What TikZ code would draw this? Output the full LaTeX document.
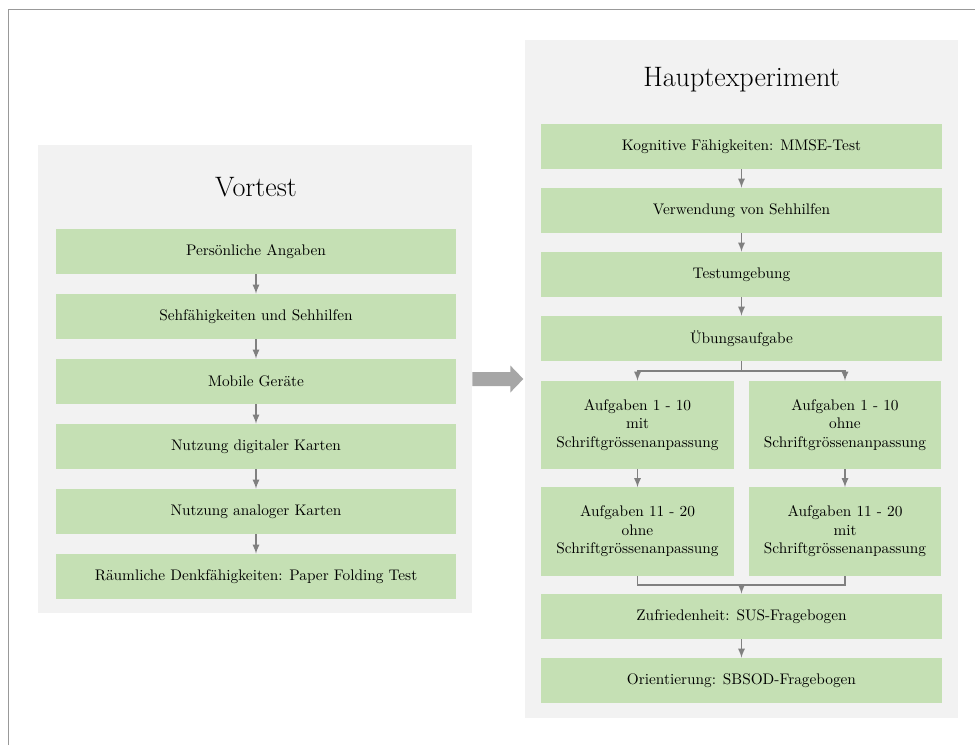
\documentclass[tikz,border=0pt]{standalone}
\usetikzlibrary{arrows}
\usetikzlibrary{positioning}
\usetikzlibrary{calc}
\definecolor{boxgreen}{HTML}{C5E0B4}
\definecolor{panelgray}{HTML}{F2F2F2}
\definecolor{linegray}{HTML}{808080}
\definecolor{arrowgray}{HTML}{A6A6A6}
\tikzset{
  panel/.style={fill=panelgray, inner sep=0pt},
  stepbox/.style={fill=boxgreen, minimum width=10cm, minimum height=1.125cm, inner sep=0pt, align=center, font=\fontsize{10.9}{13.1}\selectfont},
  halfbox/.style={stepbox, minimum width=4.8cm, minimum height=2.2cm},
  title/.style={font=\fontsize{20}{24}\selectfont},
  flow/.style={linegray, line width=1.2pt, -latex},
  plainflow/.style={linegray, line width=1.2pt},
}
\begin{document}
\begin{tikzpicture}[x=0.025cm,y=-0.025cm]
  \useasboundingbox (0,0) rectangle (975,745);
  \draw[black!40, line width=0.6pt] (8,745) -- (8,9) -- (975,9);
  %% panels
  \node[panel, minimum width=10.85cm, minimum height=11.7cm] (vor) at (255,379) {};
  \node[panel, minimum width=10.825cm, minimum height=16.95cm] (haupt) at (741.5,379) {};
  \node[title] (vortitle) at (256,187) {Vortest};
  \node[title] (haupttitle) at (741.5,80) {Hauptexperiment};
  %% Vortest
  \foreach \name/\txt [count=\i from 0] in {pers/Persönliche Angaben, sehf/Sehfähigkeiten und Sehhilfen, mob/Mobile Geräte, digi/Nutzung digitaler Karten, anal/Nutzung analoger Karten, raum/Räumliche Denkfähigkeiten: Paper Folding Test}
    \node[stepbox] (\name) at (256,{251.5+65*\i}) {\txt};
  \foreach \a/\b in {pers/sehf, sehf/mob, mob/digi, digi/anal, anal/raum}
    \draw[flow] (\a) -- (\b);
  %% big arrow
  \fill[arrowgray] ($(vor.east)+(0,-7)$) -- ++(38,0) -- ++(0,-6.5) -- ($(vor.east)+(51,0)$)
    -- ($(vor.east)+(38,13.5)$) -- ++(0,-6.5) -- ($(vor.east)+(0,7)$) -- cycle;
  %% Hauptexperiment
  \foreach \name/\txt [count=\i from 0] in {kog/Kognitive Fähigkeiten: MMSE-Test, verw/Verwendung von Sehhilfen, umg/Testumgebung, ueb/Übungsaufgabe}
    \node[stepbox] (\name) at (741.5,{146.5+64*\i}) {\txt};
  \foreach \a/\b in {kog/verw, verw/umg, umg/ueb}
    \draw[flow] (\a) -- (\b);
  \node[halfbox] (mitA) at (637.5,425) {Aufgaben 1 - 10\\mit\\Schriftgrössenanpassung};
  \node[halfbox] (ohneA) at (845,425) {Aufgaben 1 - 10\\ohne\\Schriftgrössenanpassung};
  \node[halfbox] (ohneB) at (637.5,531.5) {Aufgaben 11 - 20\\ohne\\Schriftgrössenanpassung};
  \node[halfbox] (mitB) at (845,531.5) {Aufgaben 11 - 20\\mit\\Schriftgrössenanpassung};
  \node[stepbox] (zuf) at (741.5,616.5) {Zufriedenheit: SUS-Fragebogen};
  \node[stepbox] (ori) at (741.5,680.5) {Orientierung: SBSOD-Fragebogen};
  \draw[flow] (ueb.south) -- ++(0,10) -| (mitA.north);
  \draw[flow] (ueb.south) -- ++(0,10) -| (ohneA.north);
  \draw[flow] (mitA) -- (ohneB);
  \draw[flow] (ohneA) -- (mitB);
  \draw[plainflow] (ohneB.south) -- ++(0,9) coordinate (merge) -| (mitB.south);
  \draw[flow] (zuf.north |- merge) -- (zuf.north);
  \draw[flow] (zuf) -- (ori);
\end{tikzpicture}
\end{document}
